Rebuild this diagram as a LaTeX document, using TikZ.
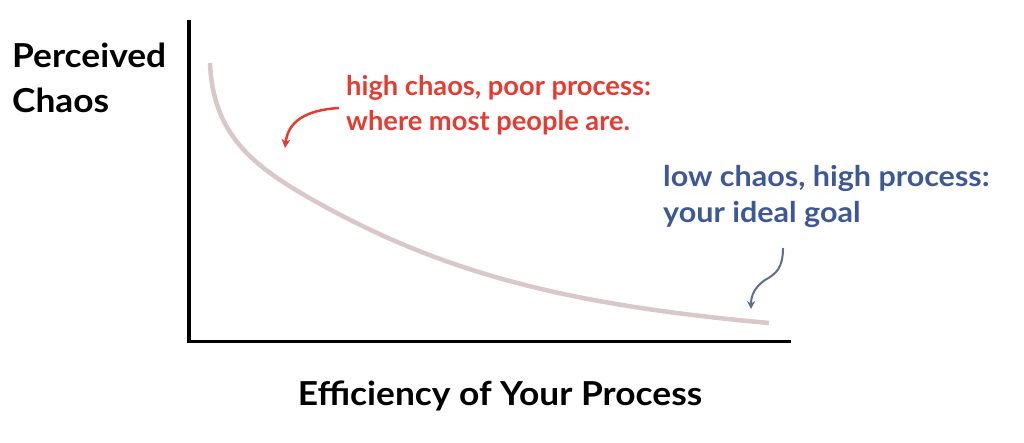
\documentclass[tikz,border=0pt]{standalone}
\usepackage{fontspec}
\setmainfont{Lato}
\newfontfamily\lblfont[FakeStretch=1.07]{Lato Bold}
\newfontfamily\notefont[FakeStretch=1.01]{Lato Bold}
\newfontfamily\bnotefont[FakeStretch=1.07]{Lato Bold}
\usetikzlibrary{arrows.meta}
\definecolor{curvec}{HTML}{D9C7C9}
\definecolor{redc}{HTML}{E63B30}
\definecolor{bluec}{HTML}{3D5896}
\definecolor{arrowb}{HTML}{5B6E9A}
\tikzset{
  lbl/.style={inner sep=0pt, anchor=base west, text=black, font=\lblfont\fontsize{33}{38}\selectfont},
  redlbl/.style={inner sep=0pt, anchor=base west, text=redc, font=\notefont\fontsize{27}{30}\selectfont},
  bluelbl/.style={inner sep=0pt, anchor=base west, text=bluec, font=\bnotefont\fontsize{28.5}{30}\selectfont},
  axis/.style={line width=3.5pt, black},
}
\begin{document}
\begin{tikzpicture}[x=1pt,y=-1pt]
\useasboundingbox (0,0) rectangle (1024,443);
\coordinate (ytop) at (189,20);
\coordinate (orig) at (189,341.7);
\coordinate (xend) at (790.7,341.7);
\draw[axis] (ytop) -- (orig) -- (xend);
\coordinate (c0) at (210,63);
\coordinate (c1) at (313,200);
\coordinate (c2) at (769,323);
\draw[curvec, line width=4.5pt] (c0) .. controls (213,135) and (253,166) .. (c1) .. controls (443,273.6) and (569,305) .. (c2);
\node[lbl] (p1) at (12,68) {Perceived};
\node[lbl] (p2) at (12,113) {Chaos};
\node[lbl, anchor=base] (xl) at (500,405) {Efficiency of Your Process};
\node[redlbl] (r1) at (346,95.7) {high chaos, poor process:};
\node[redlbl] (r2) at (346,130.7) {where most people are.};
\node[bluelbl] (b1) at (663,186.7) {low chaos, high process:};
\node[bluelbl] (b2) at (663,223) {your ideal goal};
\coordinate (ra) at (339,108);
\coordinate (rb) at (285,148);
\draw[redc, line width=2.5pt, -{Stealth[length=9pt,width=9pt]}] (ra) .. controls (305,110) and (288,122) .. (rb);
\coordinate (ba) at (783,248);
\coordinate (bm) at (765,280);
\coordinate (bb) at (751,309);
\draw[arrowb, line width=2pt, -{Stealth[length=8pt,width=8pt]}] (ba) .. controls (783,268) and (776,274) .. (bm) .. controls (755,287) and (751,295) .. (bb);
\end{tikzpicture}
\end{document}
